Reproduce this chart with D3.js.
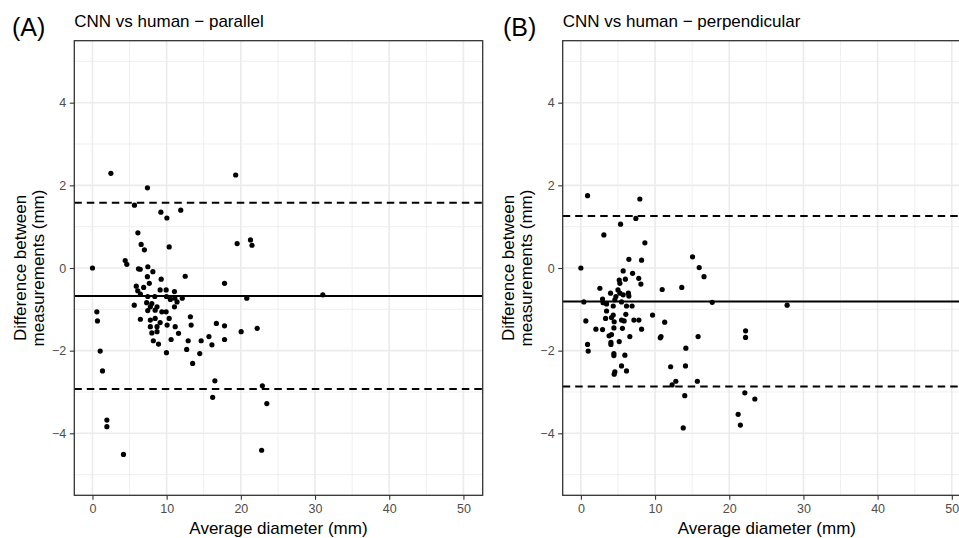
<!DOCTYPE html>
<html>
<head>
<meta charset="utf-8">
<script src="https://cdn.jsdelivr.net/npm/d3@7"></script>
<style>
  body { margin: 0; background: #fff; }
  svg { display: block; font-family: "Liberation Sans", Arial, sans-serif; }
</style>
</head>
<body>
<div id="chart"></div>
<script>
"use strict"

// Bland-Altman points: [average diameter (mm), difference (mm)]

var parallelPoints = [
	[0, 0], [2.48, 2.29], [7.41, 1.94], [5.66, 1.52], [9.22, 1.35], [10.03, 1.21],
	[11.9, 1.40], [19.3, 2.25], [6.12, 0.85], [6.56, 0.57], [7.0, 0.44], [10.34, 0.51],
	[19.5, 0.59], [21.3, 0.68], [21.5, 0.55], [4.41, 0.18], [4.63, 0.09], [6.2, -0.02],
	[6.43, -0.03], [7.46, 0.03], [8.14, -0.09], [7.4, -0.21], [9.26, -0.27], [12.5, -0.2],
	[5.9, -0.44], [7.66, -0.37], [6.9, -0.47], [6.1, -0.55], [6.46, -0.63], [9.12, -0.53],
	[9.93, -0.53], [11.05, -0.57], [17.8, -0.37], [7.45, -0.69], [8.4, -0.69], [9.97, -0.69],
	[11.1, -0.73], [12.1, -0.73], [20.8, -0.73], [5.63, -0.9], [7.3, -0.84], [8.0, -0.86],
	[7.8, -0.94], [8.7, -0.94], [10.5, -0.76], [11.4, -0.82], [11.05, -0.94], [7.45, -1.03],
	[8.45, -1.02], [9.35, -1.06], [9.93, -1.06], [0.59, -1.06], [0.67, -1.28], [6.46, -1.24],
	[7.8, -1.26], [8.45, -1.22], [13.2, -1.18], [10.34, -1.22], [9.12, -1.32], [7.8, -1.42],
	[8.7, -1.42], [10.06, -1.38], [13.3, -1.38], [11.15, -1.42], [16.7, -1.34], [17.8, -1.40],
	[8.0, -1.57], [8.7, -1.54], [11.6, -1.58], [20.04, -1.54], [22.2, -1.46], [15.7, -1.66],
	[17.8, -1.73], [8.2, -1.76], [8.9, -1.84], [10.6, -1.73], [12.9, -1.76], [14.65, -1.76],
	[16.1, -1.86], [12.7, -1.97], [14.46, -2.07], [9.97, -2.05], [1.04, -2.01], [13.5, -2.31],
	[1.35, -2.49], [16.5, -2.73], [16.2, -3.13], [31.05, -0.65], [22.9, -2.85], [23.5, -3.28],
	[22.8, -4.41], [1.94, -3.68], [1.94, -3.84], [4.18, -4.51]
];

var perpendicularPoints = [
	[0, 0], [0.9, 1.75], [7.95, 1.67], [7.41, 1.20], [5.35, 1.06], [3.1, 0.80],
	[8.63, 0.61], [6.47, 0.21], [8.18, 0.19], [15.05, 0.27], [15.95, 0.01], [16.6, -0.21],
	[5.7, -0.07], [6.97, -0.13], [7.8, -0.25], [8.09, -0.39], [5.17, -0.29], [6.0, -0.27],
	[5.26, -0.37], [2.56, -0.49], [4.0, -0.61], [5.0, -0.53], [5.26, -0.61], [6.4, -0.61],
	[10.96, -0.52], [13.6, -0.47], [0.4, -0.82], [2.92, -0.75], [3.0, -0.84], [4.72, -0.69],
	[5.7, -0.65], [6.47, -0.68], [4.58, -0.77], [5.48, -0.82], [3.46, -0.87], [4.36, -0.92],
	[6.15, -0.92], [6.9, -0.92], [17.7, -0.83], [3.46, -1.04], [4.36, -1.14], [0.67, -1.28],
	[3.33, -1.22], [4.13, -1.20], [4.49, -1.30], [5.48, -1.26], [6.06, -1.12], [5.83, -1.28],
	[7.15, -1.26], [7.82, -1.26], [9.66, -1.14], [11.3, -1.31], [2.02, -1.48], [2.92, -1.49],
	[4.45, -1.45], [5.6, -1.46], [8.18, -1.48], [4.13, -1.61], [3.8, -1.64], [6.6, -1.66],
	[10.7, -1.69], [10.8, -1.66], [15.8, -1.66], [4.05, -1.80], [4.05, -1.85], [5.17, -1.78],
	[0.9, -1.85], [0.99, -2.01], [14.15, -1.94], [4.45, -2.07], [4.45, -2.12], [5.93, -2.11],
	[5.48, -2.37], [6.15, -2.49], [4.58, -2.51], [4.49, -2.57], [12.1, -2.39], [14.1, -2.37],
	[12.8, -2.74], [12.3, -2.83], [15.7, -2.74], [14.0, -3.09], [13.8, -3.87], [27.8, -0.90],
	[22.2, -1.52], [22.2, -1.68], [22.1, -3.02], [23.45, -3.17], [21.2, -3.54], [21.5, -3.80]
];

// mean difference and limits of agreement: [upper, mean, lower]
var parallelLimits = [1.58, -0.68, -2.93];
var perpendicularLimits = [1.26, -0.81, -2.87];

var xTicks = [0, 10, 20, 30, 40, 50],
	xMinor = [5, 15, 25, 35, 45],
	yTicks = [-4, -2, 0, 2, 4],
	yMinor = [-5, -3, -1, 1, 3, 5];

var panelTitles = ["CNN vs human \u2212 parallel", "CNN vs human \u2212 perpendicular"],
	panelTags = ["(A)", "(B)"];

var xLabel = "Average diameter (mm)",
	yLabel = ["Difference between", "measurements (mm)"];

// layout

var width = 959,
	height = 538;

var pw = 408.4,
	ph = 454.6,
	panelTop = 40.7;

var panels = [
	{left: 74.3, tagX: 12, points: parallelPoints, limits: parallelLimits},
	{left: 562.7, tagX: 503, points: perpendicularPoints, limits: perpendicularLimits}
];

var svg = d3.select("#chart").append("svg")
	.attr("width", width)
	.attr("height", height);

svg.append("rect")
	.attr("width", width)
	.attr("height", height)
	.attr("fill", "#fff");

var xscale = d3.scaleLinear()
	.domain([-2.45, 52.6])
	.range([0, pw]);

var yscale = d3.scaleLinear()
	.domain([-5.5, 5.5])
	.range([ph, 0]);

var drawPanel = function(p, i) {
	var g = svg.append("g")
		.attr("transform", "translate(" + p.left + "," + panelTop + ")");

	// gridlines, minor first
	g.selectAll(".xminor").data(xMinor).enter().append("line")
		.attr("x1", function(d) {return xscale(d)})
		.attr("x2", function(d) {return xscale(d)})
		.attr("y1", 0).attr("y2", ph)
		.attr("stroke", "#EBEBEB").attr("stroke-width", 0.8);
	g.selectAll(".yminor").data(yMinor).enter().append("line")
		.attr("y1", function(d) {return yscale(d)})
		.attr("y2", function(d) {return yscale(d)})
		.attr("x1", 0).attr("x2", pw)
		.attr("stroke", "#EBEBEB").attr("stroke-width", 0.8);
	g.selectAll(".xmajor").data(xTicks).enter().append("line")
		.attr("x1", function(d) {return xscale(d)})
		.attr("x2", function(d) {return xscale(d)})
		.attr("y1", 0).attr("y2", ph)
		.attr("stroke", "#EBEBEB").attr("stroke-width", 1.6);
	g.selectAll(".ymajor").data(yTicks).enter().append("line")
		.attr("y1", function(d) {return yscale(d)})
		.attr("y2", function(d) {return yscale(d)})
		.attr("x1", 0).attr("x2", pw)
		.attr("stroke", "#EBEBEB").attr("stroke-width", 1.6);

	// points
	g.selectAll("circle").data(p.points).enter().append("circle")
		.attr("cx", function(d) {return xscale(d[0])})
		.attr("cy", function(d) {return yscale(d[1])})
		.attr("r", 2.6)
		.attr("fill", "#000");

	// mean and limits of agreement
	g.selectAll(".loa").data(p.limits).enter().append("line")
		.attr("x1", 0).attr("x2", pw)
		.attr("y1", function(d) {return yscale(d)})
		.attr("y2", function(d) {return yscale(d)})
		.attr("stroke", "#000")
		.attr("stroke-width", 2)
		.attr("stroke-dasharray", function(d, j) {return j == 1 ? null : "7.5,5"});

	// panel border
	g.append("rect")
		.attr("width", pw).attr("height", ph)
		.attr("fill", "none")
		.attr("stroke", "#333")
		.attr("stroke-width", 1.3);

	// axes
	var xaxis = g.append("g")
		.attr("transform", "translate(0," + ph + ")")
		.call(d3.axisBottom(xscale).tickValues(xTicks).tickSize(4.5).tickPadding(4.8));
	var yaxis = g.append("g")
		.call(d3.axisLeft(yscale).tickValues(yTicks).tickSize(4.5).tickPadding(3.6));

	[xaxis, yaxis].forEach(function(a) {
		a.select(".domain").remove();
		a.selectAll(".tick line").attr("stroke", "#333").attr("stroke-width", 1.1);
		a.selectAll(".tick text")
			.attr("fill", "#4D4D4D")
			.style("font-size", "12.5px")
			.style("font-family", "'Liberation Sans', Arial, sans-serif");
	});

	// axis titles
	g.append("text")
		.attr("x", pw / 2)
		.attr("y", ph + 39)
		.attr("text-anchor", "middle")
		.style("font-size", "17px")
		.text(xLabel);

	g.selectAll(".ylab").data(yLabel).enter().append("text")
		.attr("transform", function(d, j) {
			return "translate(" + (j == 0 ? -48.3 : -30.3) + "," + ph / 2 + ") rotate(-90)";
		})
		.attr("text-anchor", "middle")
		.style("font-size", "17px")
		.text(function(d) {return d});

	// title and tag
	g.append("text")
		.attr("x", 0)
		.attr("y", -14)
		.style("font-size", "17px")
		.text(panelTitles[i]);

	svg.append("text")
		.attr("x", p.tagX)
		.attr("y", 35.5)
		.style("font-size", "25px")
		.text(panelTags[i]);
};

panels.forEach(drawPanel);
</script>
</body>
</html>
